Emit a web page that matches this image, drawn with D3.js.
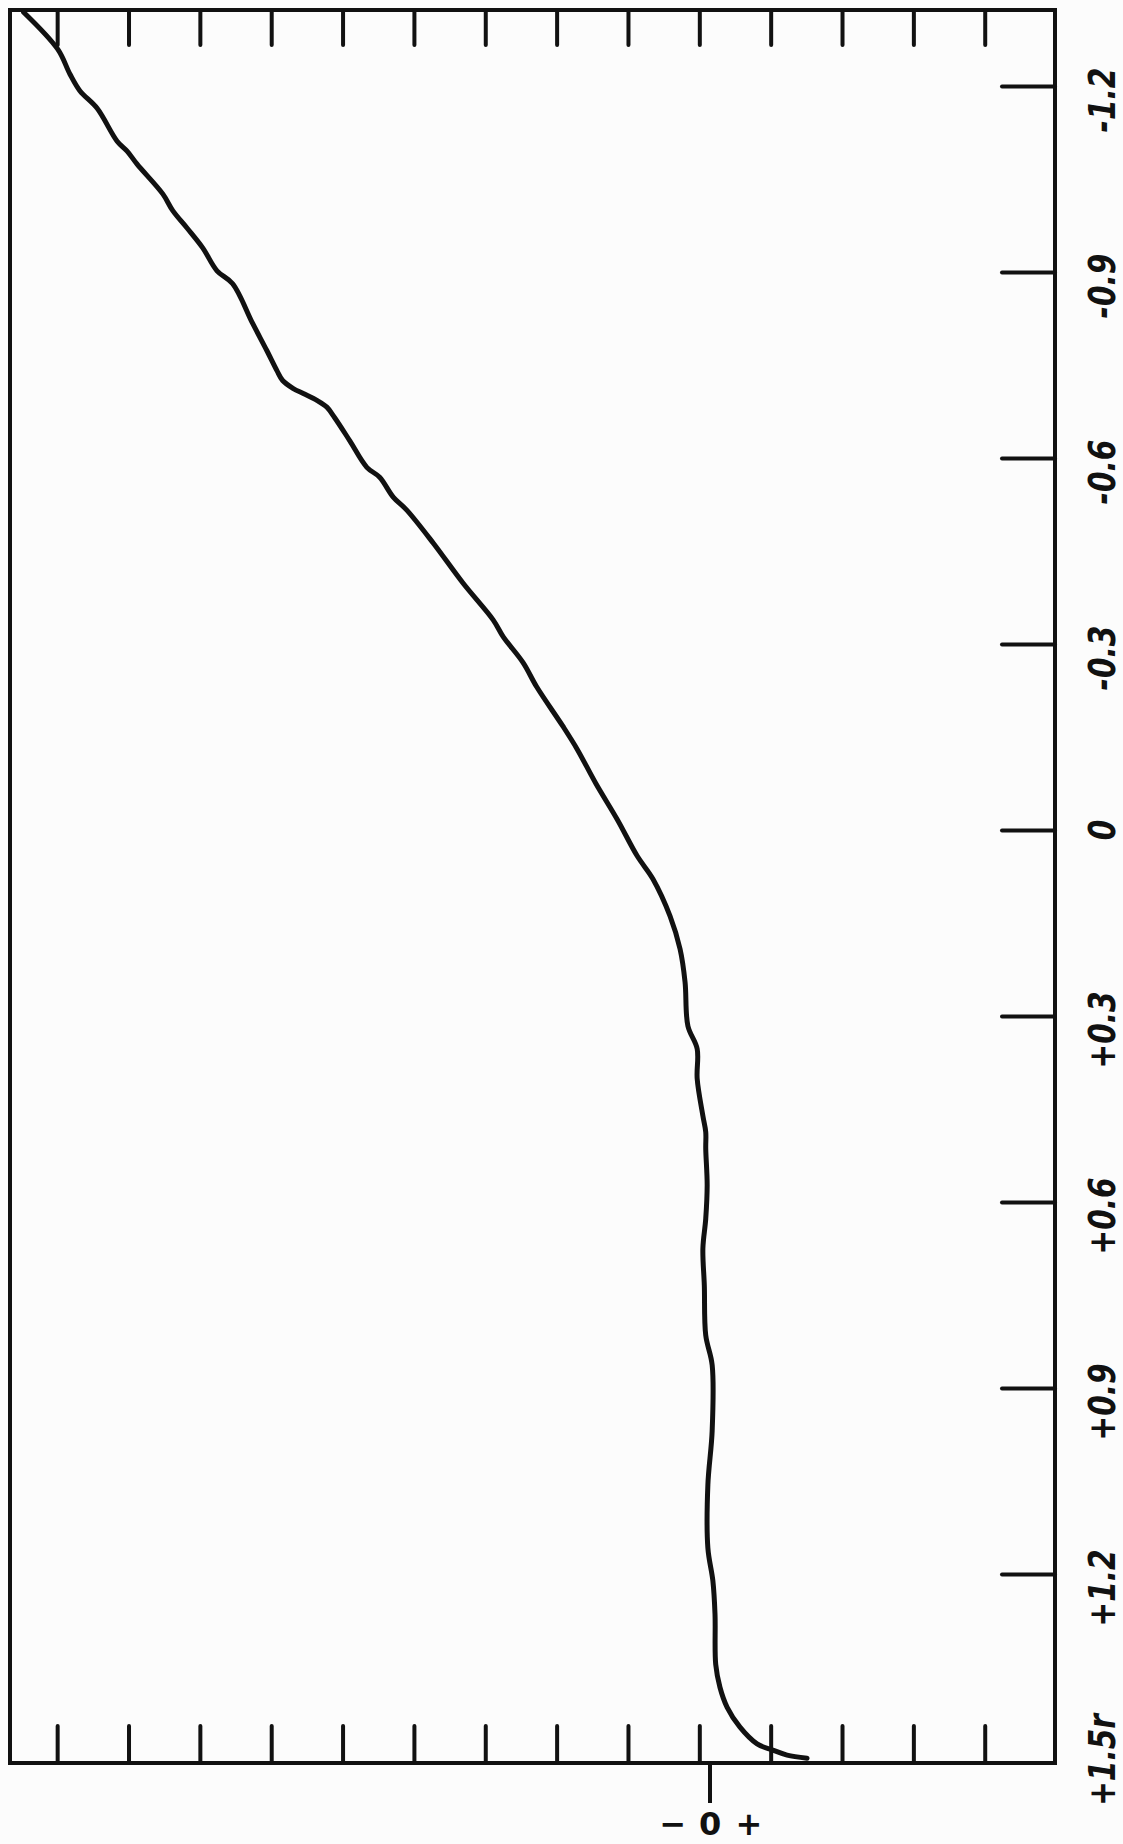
<!DOCTYPE html>
<html>
<head>
<meta charset="utf-8">
<script src="https://cdn.jsdelivr.net/npm/d3@7"></script>
<style>
  html, body { margin: 0; padding: 0; background: #fcfcfc; }
  svg { display: block; }
  .lbl { font-family: "DejaVu Sans", "Liberation Sans", sans-serif; font-weight: bold; font-style: italic; fill: #111; }
</style>
</head>
<body>
<svg id="chart" width="1123" height="1844"></svg>
<script>
// ---- data ----
// vertical value axis (right side), labels as drawn
const valueTicks = [-1.2, -0.9, -0.6, -0.3, 0, 0.3, 0.6, 0.9, 1.2, 1.5];
const valueTickLabels = ["-1.2", "-0.9", "-0.6", "-0.3", "0", "+0.3", "+0.6", "+0.9", "+1.2", "+1.5r"];
// horizontal marks (in tick-spacing units, 0 = the "- 0 +" reference mark)
const horizTicks = [-9.15, -8.15, -7.15, -6.15, -5.15, -4.15, -3.15, -2.15, -1.15, -0.15, 0.85, 1.85, 2.85, 3.85];
const zeroMarkLabel = ["\u2212", "0", "+"];
// traced profile: horizontal deviation (tick units) vs. vertical value
const profileX = [-9.62, -9.14, -8.97, -8.83, -8.59, -8.31, -8.17, -8.03, -7.67, -7.53, -7.33, -7.11, -6.91, -6.69, -6.41, -6.21, -6.07, -5.99, -5.84, -5.70, -5.51, -5.37, -5.26, -5.05, -4.81, -4.63, -4.44, -4.25, -3.88, -3.46, -3.04, -2.90, -2.62, -2.43, -2.06, -1.86, -1.60, -1.30, -1.02, -0.80, -0.56, -0.42, -0.35, -0.31, -0.18, -0.18, -0.10, -0.06, -0.06, -0.04, -0.06, -0.10, -0.08, -0.06, 0.03, 0.03, -0.03, -0.03, 0.04, 0.07, 0.08, 0.14, 0.24, 0.42, 0.66, 0.88, 1.08, 1.36];
const profileY = [-1.319, -1.259, -1.219, -1.192, -1.164, -1.111, -1.095, -1.074, -1.026, -0.999, -0.971, -0.939, -0.902, -0.881, -0.817, -0.773, -0.741, -0.725, -0.712, -0.704, -0.693, -0.682, -0.665, -0.628, -0.585, -0.569, -0.537, -0.516, -0.463, -0.398, -0.339, -0.312, -0.270, -0.231, -0.167, -0.130, -0.075, -0.017, 0.042, 0.079, 0.139, 0.192, 0.245, 0.316, 0.353, 0.401, 0.461, 0.487, 0.514, 0.573, 0.627, 0.675, 0.734, 0.815, 0.863, 0.969, 1.056, 1.158, 1.211, 1.265, 1.346, 1.383, 1.415, 1.447, 1.474, 1.484, 1.492, 1.497];

// ---- layout ----
const W = 1123, H = 1844;
const frame = { left: 10, top: 10, right: 1055, bottom: 1763 };
const svg = d3.select("#chart");
svg.append("rect").attr("width", W).attr("height", H).attr("fill", "#fcfcfc");

const x = d3.scaleLinear().domain([-9.811, 4.835]).range([frame.left, frame.right]);
const y = d3.scaleLinear().domain([-1.3226, 1.5048]).range([frame.top, frame.bottom]);

const ink = "#111";
const sw = 4;

// top marks (pointing down)
const topAxis = svg.append("g").attr("transform", `translate(0,${frame.top})`)
  .call(d3.axisBottom(x).tickValues(horizTicks).tickSize(35).tickSizeOuter(0).tickFormat(""));
// bottom marks (pointing up)
const botAxis = svg.append("g").attr("transform", `translate(0,${frame.bottom})`)
  .call(d3.axisTop(x).tickValues(horizTicks).tickSize(37).tickSizeOuter(0).tickFormat(""));
// right value axis (ticks pointing left)
const rightAxis = svg.append("g").attr("transform", `translate(${frame.right},0)`)
  .call(d3.axisLeft(y).tickValues(valueTicks.filter(v => v < 1.5)).tickSize(53).tickSizeOuter(0).tickFormat(""));

[topAxis, botAxis, rightAxis].forEach(g => {
  g.select(".domain").remove();
  g.selectAll(".tick line").attr("stroke", ink).attr("stroke-width", sw).attr("stroke-linecap", "round");
});

// frame
svg.append("rect")
  .attr("x", frame.left).attr("y", frame.top)
  .attr("width", frame.right - frame.left).attr("height", frame.bottom - frame.top)
  .attr("fill", "none").attr("stroke", ink).attr("stroke-width", sw);

// right labels, rotated and condensed like the hand lettering
const labelX = 1101;
svg.append("g").selectAll("text").data(valueTicks).join("text")
  .attr("class", "lbl")
  .attr("transform", d => `translate(${labelX},${y(d) + (d >= 1.5 || d === 0 ? 0 : 14)}) rotate(-90) scale(0.78,1)`)
  .attr("text-anchor", "middle")
  .attr("dy", "0.36em")
  .attr("font-size", 38)
  .text((d, i) => valueTickLabels[i]);

// zero reference mark below the frame
svg.append("line")
  .attr("x1", x(0)).attr("x2", x(0))
  .attr("y1", frame.bottom).attr("y2", frame.bottom + 40)
  .attr("stroke", ink).attr("stroke-width", sw);
const zOff = [-37, 0, 39];
svg.append("g").selectAll("text").data(zeroMarkLabel).join("text")
  .attr("x", (d, i) => x(0) + zOff[i])
  .attr("y", frame.bottom + 72)
  .attr("text-anchor", "middle")
  .attr("font-family", "DejaVu Sans, sans-serif")
  .attr("font-weight", "bold")
  .attr("font-size", 32)
  .attr("fill", ink)
  .text(d => d);

// profile curve
const pts = profileX.map((v, i) => [v, profileY[i]]);
const line = d3.line().x(d => x(d[0])).y(d => y(d[1])).curve(d3.curveCatmullRom.alpha(0.5));
svg.append("path")
  .attr("d", line(pts))
  .attr("fill", "none")
  .attr("stroke", ink)
  .attr("stroke-width", 5)
  .attr("stroke-linejoin", "round")
  .attr("stroke-linecap", "round");
</script>
</body>
</html>
